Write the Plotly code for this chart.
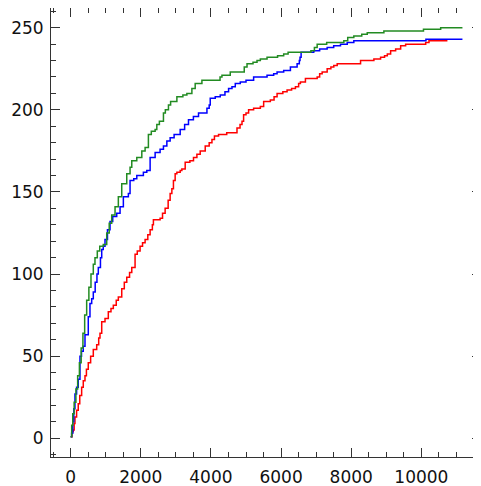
import plotly.graph_objects as go

green_x = [0, 30, 60, 100, 150, 200, 250, 300, 350, 400, 457, 520, 580, 646, 694, 760, 830, 931, 1029, 1100, 1171, 1266, 1360, 1457, 1600, 1694, 1743, 1886, 2029, 2123, 2217, 2300, 2409, 2457, 2530, 2646, 2700, 2789, 2850, 3029, 3200, 3314, 3457, 3551, 3743, 4171, 4260, 4314, 4551, 4837, 4950, 5029, 5200, 5314, 5409, 5600, 5789, 5900, 6074, 6200, 6743, 6850, 6950, 7029, 7300, 7789, 7900, 8074, 8300, 8457, 8931, 10060, 10550, 11171]
green_y = [1, 8, 15, 22, 30, 38, 46, 55, 64, 75, 84, 92, 100, 106, 110, 114, 117, 118, 125, 131, 136, 141, 147, 155, 161, 165, 169, 171, 175, 177, 185, 187, 188, 191, 193, 198, 200, 203, 205, 208, 209, 210, 213, 216, 218, 218, 220, 221, 223, 223, 226, 228, 229, 230, 231, 232, 232, 233, 234, 235, 235, 236, 238, 240, 241, 242, 244, 245, 246, 247, 248, 249, 250, 250]

blue_x = [0, 28, 60, 90, 123, 170, 217, 266, 310, 360, 409, 474, 503, 551, 600, 646, 700, 750, 789, 850, 886, 930, 980, 1050, 1123, 1200, 1314, 1409, 1503, 1646, 1694, 1800, 1886, 2074, 2171, 2266, 2409, 2550, 2646, 2743, 2837, 2950, 3123, 3250, 3360, 3500, 3646, 3886, 3950, 3980, 4123, 4266, 4400, 4503, 4600, 4694, 4837, 5000, 5217, 5600, 5789, 5886, 6074, 6266, 6457, 6520, 6540, 6571, 6700, 6931, 7100, 7314, 7500, 7694, 7886, 8074, 10130, 11171]
blue_y = [1, 3, 10, 18, 27, 31, 36, 50, 53, 56, 63, 63, 74, 82, 85, 89, 95, 100, 104, 110, 115, 117, 121, 127, 132, 135, 137, 141, 147, 149, 157, 158, 160, 162, 163, 171, 174, 176, 178, 181, 183, 185, 188, 191, 194, 196, 198, 201, 203, 207, 208, 209, 211, 213, 214, 216, 217, 218, 220, 221, 222, 223, 224, 226, 228, 230, 232, 235, 235, 236, 237, 238, 239, 240, 241, 242, 243, 243]

red_x = [0, 40, 74, 100, 123, 170, 217, 260, 314, 360, 409, 450, 503, 570, 646, 743, 800, 837, 886, 980, 1074, 1150, 1217, 1300, 1360, 1457, 1530, 1600, 1680, 1743, 1837, 1900, 1980, 2050, 2123, 2200, 2266, 2330, 2360, 2551, 2620, 2694, 2780, 2837, 2886, 2931, 2980, 3029, 3123, 3171, 3266, 3400, 3503, 3600, 3694, 3837, 3950, 4029, 4100, 4217, 4450, 4743, 4830, 4886, 4931, 5000, 5074, 5217, 5409, 5503, 5694, 5800, 5886, 6050, 6171, 6300, 6409, 6500, 6551, 6694, 7029, 7100, 7171, 7314, 7420, 7503, 7600, 8266, 8646, 8837, 8950, 9029, 9123, 9266, 9409, 9551, 10123, 10217, 10743]
red_y = [1, 4, 5, 9, 13, 17, 21, 26, 31, 35, 38, 42, 46, 50, 54, 57, 61, 64, 71, 73, 77, 79, 81, 84, 86, 91, 95, 98, 101, 104, 112, 114, 117, 119, 121, 124, 127, 130, 133, 134, 137, 140, 145, 149, 152, 157, 161, 162, 163, 164, 168, 169, 171, 173, 175, 178, 180, 182, 184, 185, 186, 189, 191, 193, 197, 198, 200, 201, 202, 205, 206, 208, 210, 211, 212, 213, 214, 216, 217, 219, 220, 222, 223, 225, 226, 227, 228, 230, 231, 232, 233, 234, 236, 237, 239, 240, 241, 242, 242]

x_ticks = [0, 2000, 4000, 6000, 8000, 10000]
x_ticktext = ["0", "2000", "4000", "6000", "8000", "10000"]
y_ticks = [0, 50, 100, 150, 200, 250]
y_ticktext = ["0", "50", "100", "150", "200", "250"]

fig = go.Figure()
for xs, ys, col in [(red_x, red_y, "#ff0000"), (blue_x, blue_y, "#0000ff"), (green_x, green_y, "#228b22")]:
    fig.add_trace(go.Scatter(x=xs, y=ys, mode="lines", line=dict(color=col, width=1.5, shape="hv"),
                             showlegend=False, hoverinfo="skip"))

axis_common = dict(showline=True, linecolor="#333333", linewidth=1, mirror="allticks",
                   ticks="inside", ticklen=9, tickcolor="#333333", tickwidth=1,
                   showgrid=False, zeroline=False, automargin=False,
                   tickfont=dict(family="DejaVu Sans", size=17, color="#111111"))

# the page body has an 8px default margin; size the figure so the plot box
# lands where the reference has it
fig.update_layout(
    width=473, height=478,
    margin=dict(l=43, r=0, t=0, b=29),
    paper_bgcolor="white", plot_bgcolor="white",
    xaxis=dict(range=[-560, 11700], tickvals=x_ticks, ticktext=x_ticktext,
               ticklabelstandoff=5,
               minor=dict(ticks="inside", dtick=500, ticklen=5, tickcolor="#333333", showgrid=False),
               **axis_common),
    yaxis=dict(range=[-11.4, 262], tickvals=y_ticks, ticktext=y_ticktext,
               ticklabelstandoff=3,
               minor=dict(ticks="inside", dtick=10, ticklen=5, tickcolor="#333333", showgrid=False),
               **axis_common),
)
fig.write_html("out.html")
